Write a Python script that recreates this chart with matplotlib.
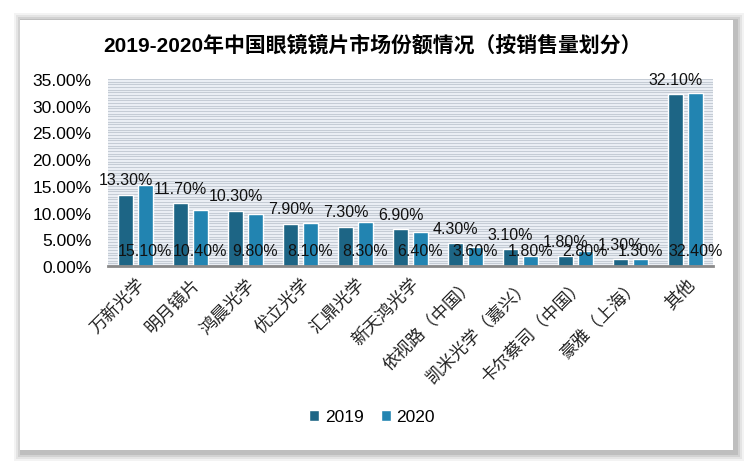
import numpy as np
import matplotlib
matplotlib.use('Agg')
import matplotlib.pyplot as plt
from matplotlib.patches import Rectangle

plt.rcParams['font.family'] = ['Liberation Sans', 'Noto Sans CJK SC']

# data
categories = ['万新光学', '明月镜片', '鸿晨光学', '优立光学', '汇鼎光学', '新天鸿光学',
              '依视路（中国）', '凯米光学（嘉兴）', '卡尔蔡司（中国）', '豪雅（上海）', '其他']
share_2019 = [13.3, 11.7, 10.3, 7.9, 7.3, 6.9, 4.3, 3.1, 1.8, 1.3, 32.1]
share_2020 = [15.1, 10.4, 9.8, 8.1, 8.3, 6.4, 3.6, 1.8, 2.8, 1.3, 32.4]
years = ['2019', '2020']
yticks = [0, 5, 10, 15, 20, 25, 30, 35]

c19, c20 = '#1d6585', '#2284b1'

W, H = 750, 464
fig = plt.figure(figsize=(W/100, H/100), dpi=100, facecolor='white')

# soft shadow around the panel, then the white panel
for i, a in enumerate([0.10, 0.14, 0.20, 0.28]):
    d = 8 - 2*i
    fig.patches.append(Rectangle(((19-d+3)/W, (12-d-2)/H), (714+2*d)/W, (432+2*d)/H,
                                 transform=fig.transFigure, facecolor='#8c8c8c',
                                 alpha=a, edgecolor='none', zorder=0))
fig.patches.append(Rectangle((20/W, 13/H), 713/W, 430/H, transform=fig.transFigure,
                             facecolor='white', edgecolor='none', zorder=1))

ax = fig.add_axes([108/W, 1-267/H, (713-108)/W, (267-80)/H])
ax.set_zorder(2)
ax.set_facecolor('#edf1f6')

x = np.arange(len(categories))
bw, off = 0.27, 0.18
b1 = ax.bar(x-off, share_2019, bw, color=c19, edgecolor='white', linewidth=1.0, zorder=3, label=years[0])
b2 = ax.bar(x+off, share_2020, bw, color=c20, edgecolor='white', linewidth=1.0, zorder=3, label=years[1])

for xi, v in zip(x, share_2019):
    ax.annotate('%.2f%%' % v, (xi-off, v), xytext=(0, 15), textcoords='offset pixels',
                ha='center', va='center', fontsize=11.5, color='#111111', zorder=5)
for xi, v in zip(x, share_2020):
    ax.text(xi+off, 2.9, '%.2f%%' % v, ha='center', va='center', fontsize=11.5,
            color='#111111', zorder=5)

ax.set_xlim(-0.5, len(categories)-0.5)
ax.set_ylim(0, 35)
ax.set_yticks(yticks)
ax.set_yticklabels(['%.2f%%' % t for t in yticks], fontsize=12.5)
ax.set_yticks(np.arange(0, 35.01, 0.5), minor=True)
ax.grid(axis='y', which='both', color='#c5ccd5', linewidth=0.8, zorder=0)
ax.set_axisbelow(True)
ax.tick_params(axis='both', which='both', length=0)
ax.tick_params(axis='y', pad=12)
ax.set_xticks(x)
ax.set_xticklabels(categories, rotation=45, ha='right', va='top', rotation_mode='anchor',
                   fontsize=12.5, family=['Noto Sans CJK SC'], color='#222222')
ax.tick_params(axis='x', pad=6)
for s in ['top', 'right', 'left']:
    ax.spines[s].set_visible(False)
ax.spines['bottom'].set_color('#8a8a8a')
ax.spines['bottom'].set_linewidth(2)
ax.spines['bottom'].set_zorder(4)

fig.text(372/W, 1-45/H, '2019-2020年中国眼镜镜片市场份额情况（按销售量划分）',
         ha='center', va='center', fontsize=15, fontweight='bold', zorder=3)

leg = fig.legend(handles=[b1, b2], loc='center', bbox_to_anchor=(372/W, 1-418/H), ncol=2,
                 frameon=False, fontsize=12.5, handlelength=0.6, handleheight=0.6,
                 handletextpad=0.3, columnspacing=1.0)
leg.set_zorder(3)

fig.savefig('out.png', dpi=100, facecolor=fig.get_facecolor())
